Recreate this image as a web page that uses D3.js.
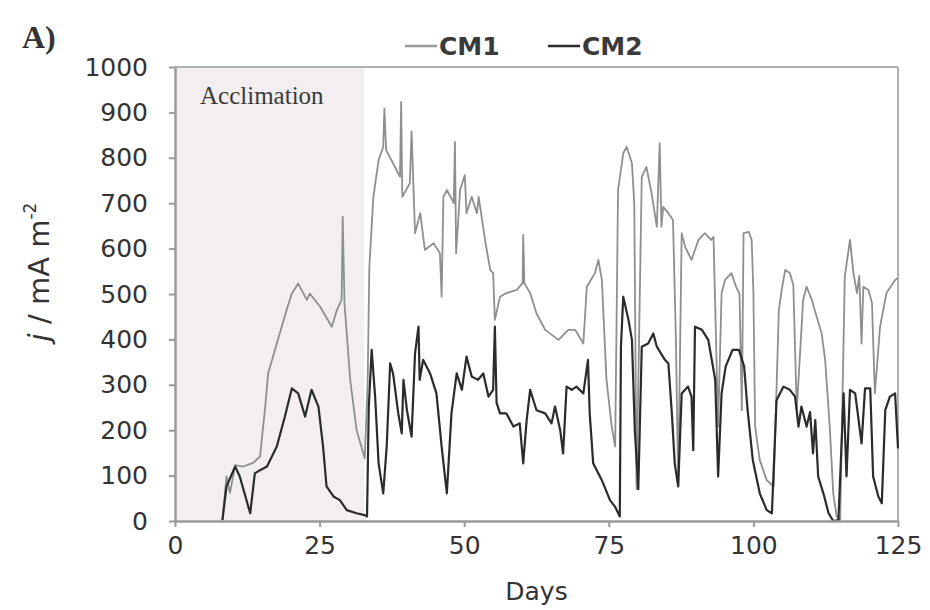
<!DOCTYPE html>
<html>
<head>
<meta charset="utf-8">
<script src="https://cdn.jsdelivr.net/npm/d3@7"></script>
<style>
  html, body { margin: 0; padding: 0; background: #fff; }
  svg { display: block; }
</style>
</head>
<body>
<svg id="chart" width="930" height="610"></svg>
<script>
// ---------- data ----------
const xTicks = [0, 25, 50, 75, 100, 125];
const yTicks = [0, 100, 200, 300, 400, 500, 600, 700, 800, 900, 1000];
const seriesNames = ["CM1", "CM2"];
const acclimationEnd = 32.7;

const cm1Days = [8.2,8.9,9.5,10.4,11.8,13.5,14.7,15.6,16.1,17.6,19.3,20.2,21.3,22.8,23.3,25.1,27.1,28,28.8,29,29.3,30.3,31.4,32.8,33.3,33.6,34.3,35.2,36,36.2,36.5,37.7,38.9,39.1,39.3,40.6,40.9,41.5,42.4,43.2,44.7,45.8,46.1,46.4,47,48.2,48.4,48.6,49.3,50.1,50.4,51.3,52.2,52.5,53.6,54.5,55,55.3,56.2,57.3,59.1,60.1,60.2,60.4,61.4,62.5,64,66.3,68,69.2,70.6,71.2,72.6,73.2,73.8,74.6,75.5,76.1,76.6,77.5,78.1,79,79.4,79.8,80.7,81.5,82.4,83.3,83.8,84.1,84.4,85.3,86.1,86.6,87,87.6,88.2,89.3,90.5,91.6,92.7,93.1,93.5,93.9,94.5,95.1,96.2,97,97.6,98,98.3,99.2,99.7,100,100.3,101.1,102.3,103.5,104.4,104.9,105.5,106.3,106.9,107.5,108.6,109.2,110.1,110.6,111.8,112.4,113.2,113.8,114.4,115,115.8,116.7,117.3,117.9,118.3,118.7,119,119.9,120.5,121,121.9,123,124.5,125];
const cm1Values = [2,98,62,123,120,128,142,252,325,391,465,501,523,487,501,472,428,465,487,670,480,310,200,138,300,560,714,795,824,909,817,788,758,923,714,744,858,634,678,597,612,590,494,714,729,700,835,590,729,762,678,714,678,714,619,553,546,443,494,502,509,524,630,524,502,457,421,399,421,421,391,516,546,575,531,311,208,164,729,810,824,788,700,70,758,780,722,648,832,648,692,678,663,400,80,634,604,575,619,634,619,626,420,208,502,531,546,516,500,244,634,637,619,502,208,134,90,76,465,509,553,546,520,244,487,516,487,465,413,355,208,61,10,2,538,619,546,502,540,391,516,509,480,281,428,502,531,535];

const cm2Days = [8.2,8.9,10.4,11.2,13,13.8,14.7,15.9,17.6,19,20.2,21.3,22.5,23.6,24.8,25.6,26.2,27.4,28.5,29.7,31.4,32.8,33.2,33.5,34,34.6,35.2,36,36.6,37.2,37.7,38.6,39.2,39.5,40.1,40.9,41.5,42.1,42.3,42.9,44.1,45.2,46.1,47,47.8,48.7,49.6,50.4,51.3,52.4,53.3,54.2,55,55.3,55.6,56.2,57.3,58.5,59.6,60.2,60.8,61.4,62.5,64,65.1,65.7,66.6,67.1,67.7,68.6,69.4,70.6,71.4,71.7,72.3,73.8,75.2,76.1,76.9,77.1,77.5,78.4,79,79.5,80.1,80.7,81.8,82.7,83.3,84.7,85.3,85.9,86.4,87,87.6,88.7,89.3,89.6,89.9,91.1,92.2,93.4,93.9,94.5,95.2,96.4,97.5,98.4,99,99.9,101.1,102.3,103.2,104,105.2,106.3,107.2,107.8,108.3,109.2,109.8,110.3,110.7,111.2,112.1,113,113.8,114.7,115.6,116.1,116.7,117.6,118.7,119.3,120.2,120.7,121.6,122.2,122.8,123.6,124.5,125];
const cm2Values = [2,76,120,98,17,105,112,120,164,230,292,281,230,289,252,164,76,54,46,24,17,13,10,250,377,274,127,61,164,347,325,237,193,311,244,186,369,428,311,355,325,281,164,61,237,325,289,362,318,311,325,274,289,428,260,237,237,208,215,127,222,289,244,237,215,252,200,149,296,289,296,281,355,237,127,90,46,31,10,384,494,443,399,200,70,384,391,413,384,355,347,237,127,76,281,296,274,156,428,421,399,311,98,281,340,377,377,340,244,134,61,24,17,266,296,289,274,208,252,208,240,149,222,98,61,17,0,2,281,98,289,281,171,292,292,98,54,39,244,274,281,160];

// ---------- layout ----------
const svg = d3.select("#chart");
const W = 930, H = 610;
const plotL = 175, plotR = 898, plotT = 67, plotB = 521;
const font = "'DejaVu Sans', sans-serif";
const textCol = "#333";
const axisCol = "#9a9a9a";

svg.append("rect").attr("width", W).attr("height", H).attr("fill", "#fff");

const x = d3.scaleLinear().domain([0, 125]).range([plotL, plotR]);
const y = d3.scaleLinear().domain([0, 1000]).range([plotB, plotT]);

// acclimation shading
svg.append("rect")
  .attr("x", x(0)).attr("y", y(1000))
  .attr("width", x(acclimationEnd) - x(0))
  .attr("height", y(0) - y(1000))
  .attr("fill", "#f3eff0");

svg.append("text")
  .attr("x", 200).attr("y", 104)
  .attr("font-family", "'Liberation Serif', 'Times New Roman', serif")
  .attr("font-size", 25)
  .attr("fill", "#3a3a3a")
  .text("Acclimation");

// frame (top and right)
svg.append("line").attr("x1", plotL).attr("x2", plotR).attr("y1", plotT).attr("y2", plotT)
  .attr("stroke", "#b0b0b0").attr("stroke-width", 2);
svg.append("line").attr("x1", plotR).attr("x2", plotR).attr("y1", plotT).attr("y2", plotB)
  .attr("stroke", "#b0b0b0").attr("stroke-width", 2);

// lines
const line = d3.line().x(d => x(d[0])).y(d => y(d[1]));
const cm1 = cm1Days.map((d, i) => [d, cm1Values[i]]);
const cm2 = cm2Days.map((d, i) => [d, cm2Values[i]]);

svg.append("path").datum(cm1).attr("d", line)
  .attr("fill", "none").attr("stroke", "#8f8f8f").attr("stroke-width", 1.8)
  .attr("stroke-linejoin", "round");
svg.append("path").datum(cm2).attr("d", line)
  .attr("fill", "none").attr("stroke", "#2b2b2b").attr("stroke-width", 2.2)
  .attr("stroke-linejoin", "round");

// axes
const yAxis = d3.axisLeft(y).tickValues(yTicks).tickFormat(d3.format("d"))
  .tickSize(6).tickSizeOuter(0).tickPadding(21);
const xAxis = d3.axisBottom(x).tickValues(xTicks).tickFormat(d3.format("d"))
  .tickSize(6).tickSizeOuter(0).tickPadding(9);

const gy = svg.append("g").attr("transform", `translate(${plotL},0)`).call(yAxis);
const gx = svg.append("g").attr("transform", `translate(0,${plotB})`).call(xAxis);

[gx, gy].forEach(g => {
  g.select(".domain").attr("stroke", axisCol).attr("stroke-width", 2.5);
  g.selectAll(".tick line").attr("stroke", axisCol).attr("stroke-width", 2);
  g.selectAll(".tick text").attr("font-family", font).attr("font-size", 25).attr("fill", textCol);
});

// axis titles
svg.append("text")
  .attr("x", x(62.5)).attr("y", 600)
  .attr("text-anchor", "middle")
  .attr("font-family", font).attr("font-size", 25).attr("fill", textCol)
  .text("Days");

const yl = svg.append("text")
  .attr("transform", "translate(49,272) rotate(-90)")
  .attr("text-anchor", "middle")
  .attr("font-family", font).attr("font-size", 29).attr("fill", textCol);
yl.append("tspan").attr("font-style", "italic").text("j");
yl.append("tspan").text(" / mA m");
yl.append("tspan").attr("font-size", 17).attr("dy", -13).text("-2");

// panel letter
svg.append("text")
  .attr("x", 22).attr("y", 48)
  .attr("font-family", "'Liberation Serif', 'Times New Roman', serif")
  .attr("font-size", 32).attr("font-weight", "bold").attr("fill", "#333")
  .text("A)");

// legend
const legendItems = [
  { name: seriesNames[0], color: "#9a9a9a", x0: 405 },
  { name: seriesNames[1], color: "#2b2b2b", x0: 548 }
];
legendItems.forEach(it => {
  svg.append("line").attr("x1", it.x0).attr("x2", it.x0 + 32).attr("y1", 46).attr("y2", 46)
    .attr("stroke", it.color).attr("stroke-width", 2.5);
  svg.append("text").attr("x", it.x0 + 34).attr("y", 55)
    .attr("font-family", font).attr("font-size", 25).attr("font-weight", "bold")
    .attr("fill", "#3a3a3a").text(it.name);
});
</script>
</body>
</html>
